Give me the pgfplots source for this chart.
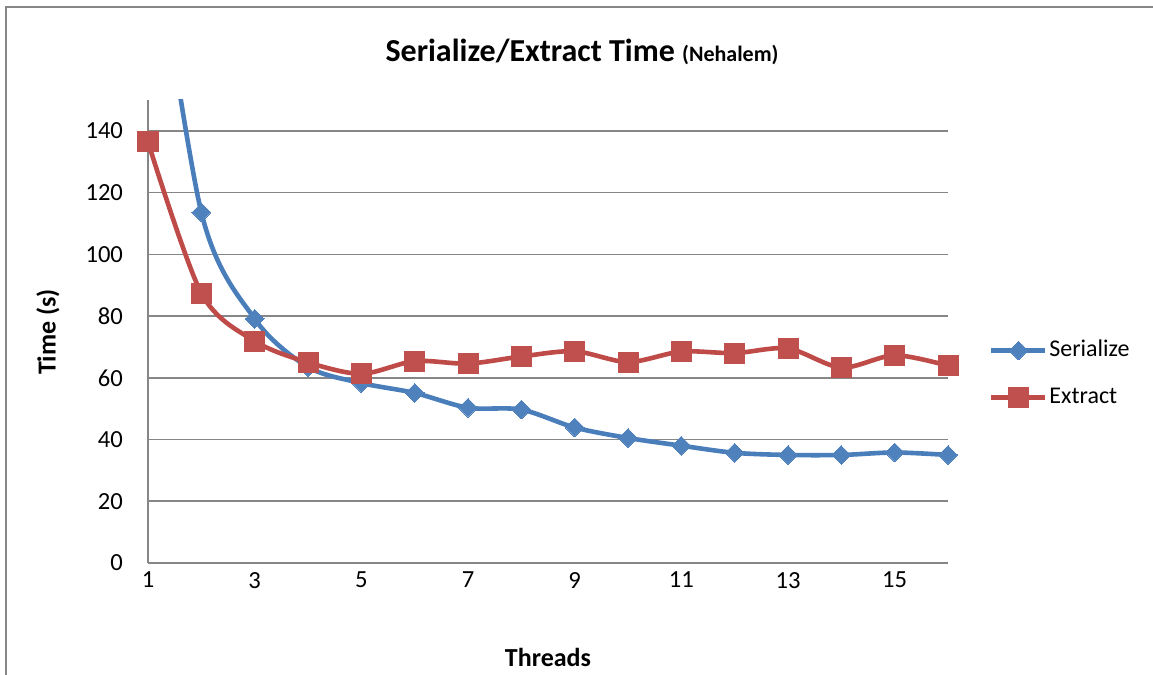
\documentclass[border=0pt]{standalone}
\usepackage{pgfplots}
\pgfplotsset{compat=1.18}
\usepackage{fontspec}
\setmainfont{Carlito}

\definecolor{serline}{RGB}{74,126,187}
\definecolor{sermark}{RGB}{79,129,189}
\definecolor{extline}{RGB}{190,75,72}
\definecolor{extmark}{RGB}{192,80,77}
\definecolor{framegray}{RGB}{134,134,134}

\begin{document}
\begin{tikzpicture}[x=0.5pt,y=0.5pt]
\useasboundingbox (0,0) rectangle (1153,675);
\draw[framegray, line width=1.2pt] (6,0) -- (6,668) -- (1153,668);

\node[font=\bfseries\fontsize{16}{19}\selectfont] at (582,623)
  {Serialize/Extract Time {\fontsize{11}{13}\selectfont (Nehalem)}};
\node[rotate=90, font=\bfseries\fontsize{13}{15}\selectfont] at (48,343) {Time (s)};
\node[font=\bfseries\fontsize{13}{15}\selectfont] at (548,18) {Threads};

\begin{axis}[
    at={(74pt,56pt)}, anchor=south west,
    scale only axis, width=400pt, height=231.5pt,
    xmin=1, xmax=16, ymin=0, ymax=150,
    xtick={1,3,...,15}, ytick={0,20,...,140},
    axis lines*=left,
    axis line style={framegray, line width=0.8pt, -},
    ymajorgrids,
    grid style={framegray, line width=0.8pt},
    major tick length=0pt,
    tick label style={font=\fontsize{12.3}{14}\selectfont},
    /pgf/number format/assume math mode=true,
    yticklabel style={xshift=-9pt},
    xticklabel style={yshift=-1pt},
    clip mode=individual,
    legend style={at={(1.051,0.408)}, anchor=west, draw=none, fill=none,
        inner sep=0pt, font=\fontsize{12}{14}\selectfont, row sep=11pt,
        nodes={inner sep=0.8pt, text height=8.5pt, text depth=2.5pt}},
    legend cell align=left,
    legend image code/.code={
        \draw[mark=none] (0pt,0pt) -- (27pt,0pt);
        \draw plot coordinates {(13.5pt,0pt)};},
]
% Serialize: curve (first point lies above the plot area), then its markers
\addplot[serline, line width=2.3pt, smooth, mark=none, forget plot] coordinates {
    (1,220) (2,113.6) (3,79.1) (4,63.5) (5,58.3) (6,55.1) (7,50.3) (8,49.7)
    (9,43.9) (10,40.5) (11,38.0) (12,35.7) (13,35.0) (14,35.0) (15,35.8) (16,35.0)
};
\addplot[serline, line width=2.3pt, only marks, mark=square*, mark size=3.3pt,
    mark options={rotate=45, fill=sermark, draw=sermark, line width=0pt}] coordinates {
    (2,113.6) (3,79.1) (4,63.5) (5,58.3) (6,55.1) (7,50.3) (8,49.7)
    (9,43.9) (10,40.5) (11,38.0) (12,35.7) (13,35.0) (14,35.0) (15,35.8) (16,35.0)
};
\addlegendentry{Serialize}
\addplot[extline, line width=2.3pt, smooth, mark=square*, mark size=5pt,
    mark options={fill=extmark, draw=extmark, line width=0pt}] coordinates {
    (1,136.4) (2,87.4) (3,71.9) (4,65.0) (5,61.3) (6,65.4) (7,64.6) (8,66.9)
    (9,68.6) (10,65.1) (11,68.5) (12,68.0) (13,69.5) (14,63.3) (15,67.3) (16,63.9)
};
\addlegendentry{Extract}
\end{axis}
\end{tikzpicture}
\end{document}
